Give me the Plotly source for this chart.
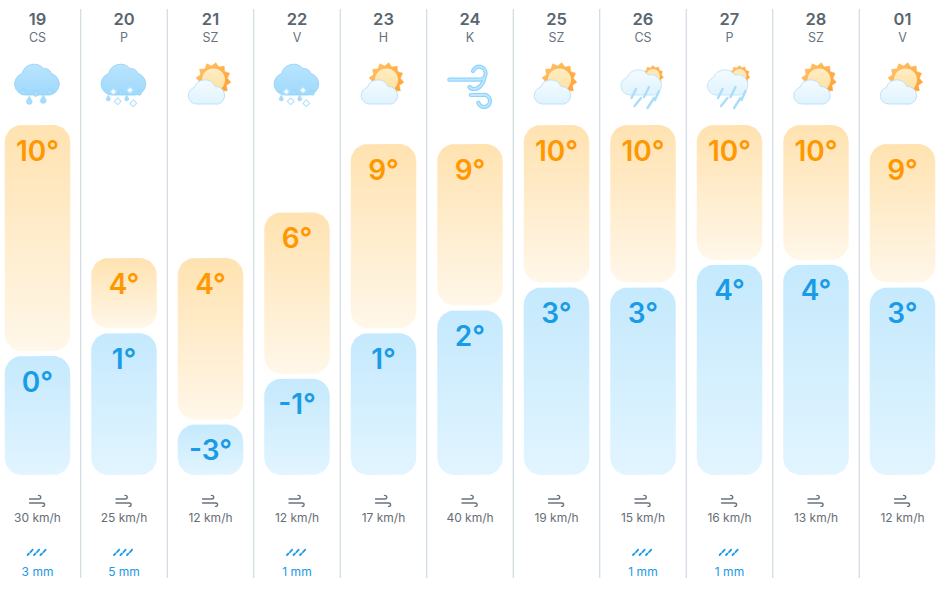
import base64
import math

import numpy as np
import plotly.graph_objects as go

# Forecast table
days = ["19", "20", "21", "22", "23", "24", "25", "26", "27", "28", "01"]
weekdays = ["CS", "P", "SZ", "V", "H", "K", "SZ", "CS", "P", "SZ", "V"]
highs = [10, 4, 4, 6, 9, 9, 10, 10, 10, 10, 9]
lows = [0, 1, -3, -1, 1, 2, 3, 3, 4, 4, 3]
wind_kmh = [30, 25, 12, 12, 17, 40, 19, 15, 16, 13, 12]
rain_mm = [3, 5, None, 1, None, None, None, 1, 1, None, None]
conditions = ["rain", "sleet", "sun", "sleet", "sun", "wind", "sun", "shower", "shower", "sun", "sun"]

WIDTH, HEIGHT = 942, 591
COL_PX = 86.5
FIRST_CENTRE_PX = 37.5
DEG_PX = 22.8
ZERO_PX = 356
BAR_W = 65.5 / COL_PX
RADIUS_PX = 17
BASE_PX = 475
HIGH_OFFSET = 6.8 / DEG_PX    # highs sit slightly above the same scale as lows
GAP = 5 / DEG_PX              # white gap between the two bars of a day
SCALE_TOP = (ZERO_PX - 125) / DEG_PX   # tallest bars are capped here
SCALE_BASE = (ZERO_PX - BASE_PX) / DEG_PX


def rounded_rect(centre, bottom, top):
    """Outline of a rounded bar in axis units."""
    half = BAR_W / 2
    rx = RADIUS_PX / COL_PX
    ry = min(RADIUS_PX / DEG_PX, (top - bottom) / 2)
    t = np.linspace(0, math.pi / 2, 10)
    xs, ys = [], []
    corners = [
        (centre + half - rx, top - ry, 0),
        (centre - half + rx, top - ry, math.pi / 2),
        (centre - half + rx, bottom + ry, math.pi),
        (centre + half - rx, bottom + ry, 3 * math.pi / 2),
    ]
    for cx, cy, start in corners:
        xs.extend(cx + rx * np.cos(t + start))
        ys.extend(cy + ry * np.sin(t + start))
    xs.append(xs[0])
    ys.append(ys[0])
    return xs, ys


def add_bar(fig, centre, bottom, top, top_colour, bottom_colour):
    xs, ys = rounded_rect(centre, bottom, top)
    fig.add_trace(go.Scatter(
        x=xs, y=ys, mode="lines", line=dict(width=0), fill="toself",
        fillgradient=dict(type="vertical", start=top, stop=bottom,
                          colorscale=[[0, top_colour], [1, bottom_colour]]),
        hoverinfo="skip", showlegend=False,
    ))


# --- weather icons, each in a 70 x 60 box ---
GLOW = ('<filter id="s" x="-20%" y="-20%" width="140%" height="140%">'
        '<feGaussianBlur stdDeviation="0.3"/></filter>')
CLOUD = "M23 40 A11 11 0 0 1 19.5 18.6 A12.5 12.5 0 0 1 41 13.5 A8 8 0 0 1 49 18.5 A11 11 0 0 1 46 40 Z"


def svg(body, w=70, h=60, soft=True):
    group = 'filter="url(#s)"' if soft else ""
    text = (f'<svg xmlns="http://www.w3.org/2000/svg" width="{w}" height="{h}" viewBox="0 0 {w} {h}">'
            f'<defs>{GLOW}'
            '<linearGradient id="c" x1="0" y1="0" x2="0" y2="1"><stop offset="0" stop-color="#b9e4fe"/>'
            '<stop offset="1" stop-color="#a0d9fc"/></linearGradient>'
            '<linearGradient id="w" x1="0" y1="0" x2="0" y2="1"><stop offset="0" stop-color="#f4fbff"/>'
            '<stop offset="1" stop-color="#e0f3fe"/></linearGradient>'
            '<linearGradient id="o" x1="0" y1="0" x2="1" y2="1"><stop offset="0" stop-color="#ffc46b"/>'
            '<stop offset="1" stop-color="#ff9d2e"/></linearGradient>'
            '<linearGradient id="p" x1="0" y1="0" x2="0" y2="1"><stop offset="0" stop-color="#ffedc4"/>'
            '<stop offset="1" stop-color="#ffdf9e"/></linearGradient>'
            f'</defs><g {group}>{body}</g></svg>')
    return "data:image/svg+xml;base64," + base64.b64encode(text.encode()).decode()


def drop(cx, cy, r):
    return (f'<path d="M{cx} {cy - 1.7 * r} C{cx + 0.5 * r} {cy - 0.6 * r} {cx + r} {cy - 0.3 * r} {cx + r} {cy + 0.2 * r} '
            f'A{r} {r} 0 0 1 {cx - r} {cy + 0.2 * r} C{cx - r} {cy - 0.3 * r} {cx - 0.5 * r} {cy - 0.6 * r} {cx} {cy - 1.7 * r} Z" '
            'fill="#a9defb" stroke="#8ed2f8" stroke-width="0.7"/>')


def diamond(cx, cy, r):
    return (f'<path d="M{cx} {cy - r} L{cx + r} {cy} L{cx} {cy + r} L{cx - r} {cy} Z" fill="#ffffff" '
            'stroke="#b5e3fd" stroke-width="1.2" stroke-linejoin="round"/>')


def sun(cx, cy, outer, inner, core, spikes=12):
    pts = []
    for i in range(spikes * 2):
        r = outer if i % 2 == 0 else inner
        a = math.pi * i / spikes + 0.13
        pts.append(f"{cx + r * math.cos(a):.2f},{cy + r * math.sin(a):.2f}")
    return (f'<polygon points="{" ".join(pts)}" fill="url(#o)" stroke="#ffb04a" stroke-width="0.5" stroke-linejoin="round"/>'
            f'<circle cx="{cx}" cy="{cy}" r="{core}" fill="url(#p)"/>')


def icon_rain():
    body = f'<path d="{CLOUD}" fill="url(#c)" stroke="#8ed0f6" stroke-width="0.8"/>'
    for cx, cy, r in [(20.8, 37, 2.4), (33.2, 38.5, 2.4), (47.5, 37, 2.4), (26.8, 46, 2.8), (40.8, 45, 2.8)]:
        body += drop(cx, cy, r)
    return svg(body)


def icon_sleet():
    body = f'<path d="{CLOUD}" fill="url(#c)" stroke="#8ed0f6" stroke-width="0.8"/>'
    for cx, cy, r in [(32, 37.5, 1.9), (50.3, 38, 1.9), (19.3, 43.5, 1.9), (37.7, 43.5, 1.9)]:
        body += drop(cx, cy, r)
    for cx, cy, r in [(24.3, 36.7, 3.2), (41, 35.2, 3.2), (28.7, 46.3, 3.4), (44.3, 48.3, 3.4)]:
        body += diamond(cx, cy, r)
    return svg(body)


def icon_sun():
    body = sun(38, 25, 17.5, 14, 11.5)
    body += ('<path d="M21 49 A8.5 8.5 0 0 1 19 32.3 A11 11 0 0 1 39.5 31.5 A9 9 0 0 1 43 49 Z" '
             'fill="url(#w)" stroke="#b5e0f6" stroke-width="0.9"/>')
    return svg(body)


def icon_shower():
    body = sun(45, 21, 10.5, 8.5, 7, spikes=11)
    body += ('<path d="M22 40 A9 9 0 0 1 19 22.5 A12 12 0 0 1 40 20 A9.5 9.5 0 0 1 46 40 Z" '
             'fill="url(#w)" stroke="#bde3f7" stroke-width="0.9"/>')
    for x1, y1, x2, y2 in [(28, 34, 23.5, 43), (41, 32, 36, 42), (51, 36, 47, 45), (33, 43, 26.5, 51), (46, 43, 39.5, 53)]:
        body += (f'<line x1="{x1}" y1="{y1}" x2="{x2}" y2="{y2}" stroke="#a9defb" stroke-width="2.4" stroke-linecap="round"/>')
    return svg(body)


def icon_wind():
    lines = ("M14.3 24.7 H44.3 A6.5 6.5 0 1 0 38 16 "
             "M49.3 23.3 C48.5 29 44 34 39 34 C37 34 35.5 33.5 34.5 32 "
             "M35.7 40 H48 A6 6 0 1 1 43.3 47.7")
    body = (f'<path d="{lines}" fill="none" stroke="#8ed3fb" stroke-width="4.2" stroke-linecap="round"/>'
            f'<path d="{lines}" fill="none" stroke="#bfe7ff" stroke-width="1.8" stroke-linecap="round"/>')
    return svg(body)


def icon_gust():
    body = ('<path d="M1 5 H10 C13 5 13 1.4 10 1.4 M1 9 H14 C16.8 9 16.8 12.6 14 12.4" '
            'fill="none" stroke="#68747f" stroke-width="1.4" stroke-linecap="round"/>')
    return svg(body, 18, 14, soft=False)


def icon_drizzle():
    body = ""
    for x in (1, 7.5, 14):
        body += (f'<line x1="{x}" y1="7" x2="{x + 1.5}" y2="5.5" stroke="#1f9ce6" stroke-width="1.8" stroke-linecap="round"/>'
                 f'<line x1="{x + 3}" y1="4.2" x2="{x + 5.2}" y2="1.6" stroke="#1f9ce6" stroke-width="1.8" stroke-linecap="round"/>')
    return svg(body, 22, 8, soft=False)


ICONS = {"rain": icon_rain(), "sleet": icon_sleet(), "sun": icon_sun(),
         "shower": icon_shower(), "wind": icon_wind()}
GUST = icon_gust()
DRIZZLE = icon_drizzle()

fig = go.Figure()
positions = list(range(len(days)))

# Paired temperature bars
for i, (hi, lo) in enumerate(zip(highs, lows)):
    add_bar(fig, i, lo + GAP, min(hi + HIGH_OFFSET, SCALE_TOP), "#ffe2b0", "#fff7e9")
    add_bar(fig, i, SCALE_BASE, lo, "#c5e9fd", "#e2f5ff")

LABEL_DROP = 28.5 / DEG_PX
LABEL_FONT = dict(family="Inter", size=28, weight=600)
fig.add_trace(go.Scatter(
    x=positions, y=[min(h + HIGH_OFFSET, SCALE_TOP) - LABEL_DROP for h in highs],
    mode="text", text=[f"{h}°" for h in highs],
    textfont=dict(color="#ff9800", **LABEL_FONT),
    textposition="middle center", hoverinfo="skip", showlegend=False,
))
fig.add_trace(go.Scatter(
    x=positions, y=[l - LABEL_DROP for l in lows],
    mode="text", text=[f"{l}°" for l in lows],
    textfont=dict(color="#1a9be6", **LABEL_FONT),
    textposition="middle center", hoverinfo="skip", showlegend=False,
))


def row(y_px, labels, size, colour, weight=400):
    keep = [i for i, t in enumerate(labels) if t is not None]
    fig.add_trace(go.Scatter(
        x=keep, y=[y_px] * len(keep), yaxis="y2", mode="text",
        text=[labels[i] for i in keep],
        textfont=dict(family="Inter", size=size, color=colour, weight=weight),
        textposition="middle center", hoverinfo="skip", showlegend=False,
    ))


row(21, days, 16.5, "#59656f", 600)
row(39, weekdays, 12.5, "#66727d")
row(519, [f"{w} km/h" for w in wind_kmh], 12, "#666e75")
row(572.5, [None if r is None else f"{r} mm" for r in rain_mm], 12, "#2299e2")

# Separators between the days
shapes = [dict(type="line", xref="x", yref="y2", x0=i + 0.5, x1=i + 0.5, y0=9, y1=578,
               line=dict(color="#c6d3dc", width=1), layer="below")
          for i in positions[:-1]]

images = []
for i, cond in enumerate(conditions):
    images.append(dict(source=ICONS[cond], xref="x", yref="y2", x=i, y=55,
                       sizex=70 / COL_PX, sizey=60, xanchor="center", yanchor="top",
                       sizing="stretch", layer="above"))
    images.append(dict(source=GUST, xref="x", yref="y2", x=i, y=494,
                       sizex=18 / COL_PX, sizey=14, xanchor="center", yanchor="top",
                       sizing="stretch", layer="above"))
    if rain_mm[i] is not None:
        images.append(dict(source=DRIZZLE, xref="x", yref="y2", x=i, y=548,
                           sizex=22 / COL_PX, sizey=8, xanchor="center", yanchor="top",
                           sizing="stretch", layer="above"))

fig.update_layout(
    width=WIDTH, height=HEIGHT, autosize=False,
    margin=dict(l=0, r=0, t=0, b=0),
    paper_bgcolor="#ffffff", plot_bgcolor="#ffffff",
    showlegend=False, hovermode=False,
    shapes=shapes, images=images,
    xaxis=dict(range=[-FIRST_CENTRE_PX / COL_PX, (WIDTH - FIRST_CENTRE_PX) / COL_PX],
               visible=False, fixedrange=True),
    yaxis=dict(range=[(ZERO_PX - HEIGHT) / DEG_PX, ZERO_PX / DEG_PX],
               visible=False, fixedrange=True),
    yaxis2=dict(range=[HEIGHT, 0], overlaying="y", visible=False, fixedrange=True),
)

fig.write_html("out.html", config=dict(displayModeBar=False))
